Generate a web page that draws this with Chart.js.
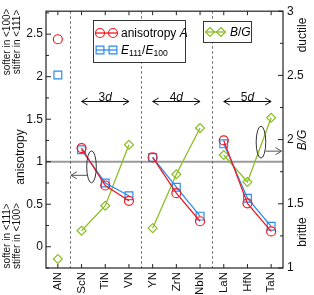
<!DOCTYPE html>
<html>
<head>
<meta charset="utf-8">
<title>Elastic anisotropy and B/G of transition metal nitrides</title>
<script src="https://cdn.jsdelivr.net/npm/chart.js@4.4.0/dist/chart.umd.min.js"></script>
<style>
  body { margin: 0; background: #fff; }
  #wrap { width: 314px; height: 295px; }
</style>
</head>
<body>
<div id="wrap"><canvas id="chart" width="314" height="295"></canvas></div>
<script>
// values
var nitrides = ["AlN", "ScN", "TiN", "VN", "YN", "ZrN", "NbN", "LaN", "HfN", "TaN"];
var shells = ["", "3d", "3d", "3d", "4d", "4d", "4d", "5d", "5d", "5d"];
var anisotropyA = [2.44, 1.16, 0.72, 0.54, 1.05, 0.63, 0.30, 1.25, 0.51, 0.18];
var youngRatio = [2.02, 1.14, 0.75, 0.60, 1.05, 0.70, 0.36, 1.21, 0.57, 0.24];
var bOverG = [1.07, 1.29, 1.485, 1.96, 1.31, 1.73, 2.09, 1.88, 1.67, 2.17];
var leftTicks = [0, 0.5, 1, 1.5, 2, 2.5];
var rightTicks = [1, 1.5, 2, 2.5, 3];

var FONT = '"Liberation Sans", Arial, Helvetica, sans-serif';
var RED = "#ee1c24";
var BLUE = "#2a8cf0";
var GREEN = "#8cbf26";

// no line between different shells (and none to AlN)
function breakSeg(c) {
  var a = shells[c.p0DataIndex], b = shells[c.p1DataIndex];
  return (a && a === b) ? undefined : "transparent";
}

function line(ctx, x1, y1, x2, y2) {
  ctx.beginPath(); ctx.moveTo(x1, y1); ctx.lineTo(x2, y2); ctx.stroke();
}

function head(ctx, x, y, dir) {
  ctx.beginPath();
  ctx.moveTo(x - dir * 6, y - 3.5);
  ctx.lineTo(x, y);
  ctx.lineTo(x - dir * 6, y + 3.5);
  ctx.stroke();
}

// draw text made of runs: {t, it, sub, sup}
function runs(ctx, parts, x, y, size) {
  var cx = x;
  parts.forEach(function(p) {
    var s = (p.sub || p.sup) ? size * 0.72 : size;
    ctx.font = (p.it ? "italic " : "") + s + "px " + FONT;
    var dy = p.sub ? size * 0.3 : (p.sup ? -size * 0.4 : 0);
    ctx.fillText(p.t, cx, y + dy);
    cx += ctx.measureText(p.t).width;
  });
}

function vtext(ctx, txt, x, y, font) {
  ctx.save();
  ctx.translate(x, y);
  ctx.rotate(-Math.PI / 2);
  ctx.font = font;
  ctx.textAlign = "center";
  ctx.textBaseline = "middle";
  ctx.fillText(txt, 0, 0);
  ctx.restore();
}

function marker(ctx, style, x, y, color) {
  ctx.save();
  ctx.strokeStyle = color;
  ctx.lineWidth = 1.2;
  ctx.beginPath();
  if (style === "circle") ctx.arc(x, y, 4.5, 0, Math.PI * 2);
  else if (style === "rect") ctx.rect(x - 3.9, y - 3.9, 7.8, 7.8);
  else { ctx.moveTo(x, y - 4.5); ctx.lineTo(x + 4.5, y); ctx.lineTo(x, y + 4.5); ctx.lineTo(x - 4.5, y); ctx.closePath(); }
  ctx.stroke();
  ctx.restore();
}

var decor = {
  id: "decor",
  beforeDatasetsDraw: function(chart) {
    var ctx = chart.ctx, a = chart.chartArea, xs = chart.scales.x, ys = chart.scales.y;
    ctx.save();
    // A = 1 reference line
    var y1 = ys.getPixelForValue(1);
    ctx.strokeStyle = "#9b9b9b";
    ctx.lineWidth = 2;
    line(ctx, a.left, y1, a.right, y1);
    // dashed separators between shells
    ctx.strokeStyle = "#444";
    ctx.lineWidth = 0.8;
    ctx.setLineDash([2.5, 2.5]);
    for (var i = 1; i < nitrides.length; i++) {
      if (shells[i] !== shells[i - 1]) {
        var xm = Math.round((xs.getPixelForValue(i - 1) + xs.getPixelForValue(i)) / 2) + 0.5;
        line(ctx, xm, a.top, xm, a.bottom);
      }
    }
    ctx.restore();
  },
  afterDatasetsDraw: function(chart) {
    var ctx = chart.ctx, a = chart.chartArea;
    var xs = chart.scales.x, ys = chart.scales.y, y2 = chart.scales.y2;
    ctx.save();

    // frame and inward ticks
    ctx.strokeStyle = "#222";
    ctx.lineWidth = 1.2;
    ctx.strokeRect(a.left, a.top, a.right - a.left, a.bottom - a.top);
    ctx.lineWidth = 1;
    nitrides.forEach(function(n, i) {
      var px = xs.getPixelForValue(i);
      line(ctx, px, a.bottom, px, a.bottom - 4);
      line(ctx, px, a.top, px, a.top + 4);
    });
    for (var v = -0.25; v <= 2.76; v += 0.25) {
      var major = Math.abs(v * 2 - Math.round(v * 2)) < 1e-6;
      var py = ys.getPixelForValue(v);
      line(ctx, a.left, py, a.left + (major ? 5 : 3), py);
    }
    for (var w = 1; w <= 3.01; w += 0.25) {
      var maj = Math.abs(w * 2 - Math.round(w * 2)) < 1e-6;
      var qy = y2.getPixelForValue(w);
      line(ctx, a.right, qy, a.right - (maj ? 5 : 3), qy);
    }

    // shell arrows
    ctx.strokeStyle = "#111";
    ctx.fillStyle = "#111";
    var ay = Math.round(ys.getPixelForValue(1.71)) + 0.5;
    ["3d", "4d", "5d"].forEach(function(s) {
      var first = shells.indexOf(s), last = shells.lastIndexOf(s);
      var xa = xs.getPixelForValue(first), xb = xs.getPixelForValue(last);
      line(ctx, xa, ay, xb, ay);
      head(ctx, xa, ay, -1);
      head(ctx, xb, ay, 1);
      ctx.textBaseline = "alphabetic";
      ctx.font = "12px " + FONT;
      var w1 = ctx.measureText(s[0]).width;
      ctx.font = "italic 12px " + FONT;
      var w2 = ctx.measureText("d").width;
      runs(ctx, [{t: s[0]}, {t: "d", it: true}], (xa + xb) / 2 - (w1 + w2) / 2, ay - 1, 12);
    });

    // ellipses pointing to the axes
    ctx.strokeStyle = "#333";
    ctx.lineWidth = 1;
    var ex = xs.getPixelForValue(1.42), ey = ys.getPixelForValue(0.94);
    ctx.beginPath(); ctx.ellipse(ex, ey, 4.8, 16, 0, 0, Math.PI * 2); ctx.stroke();
    var ly = ys.getPixelForValue(0.84);
    ctx.strokeStyle = "#555";
    line(ctx, ex - 4.5, ly, xs.getPixelForValue(0.55), ly);
    head(ctx, xs.getPixelForValue(0.55), ly, -1);

    ctx.strokeStyle = "#333";
    var fx = xs.getPixelForValue(8.57), fy = y2.getPixelForValue(1.98);
    ctx.beginPath(); ctx.ellipse(fx, fy, 4.8, 16, 0, 0, Math.PI * 2); ctx.stroke();
    var ry = y2.getPixelForValue(1.91);
    ctx.strokeStyle = "#555";
    line(ctx, fx + 4.5, ry, a.right - 1.5, ry);
    head(ctx, a.right - 1.5, ry, 1);

    // legend boxes
    ctx.fillStyle = "#fff";
    ctx.strokeStyle = "#222";
    ctx.lineWidth = 0.9;
    ctx.fillRect(93.5, 20.5, 92, 42);
    ctx.strokeRect(93.5, 20.5, 92, 42);
    ctx.fillRect(203.5, 21.5, 48, 21);
    ctx.strokeRect(203.5, 21.5, 48, 21);

    var items = [
      {y: 33, c: RED, s: "circle", txt: [{t: "anisotropy "}, {t: "A", it: true}]},
      {y: 50, c: BLUE, s: "rect", txt: [{t: "E", it: true}, {t: "111", sub: true}, {t: "/"}, {t: "E", it: true}, {t: "100", sub: true}]}
    ];
    items.forEach(function(it) {
      ctx.strokeStyle = it.c;
      ctx.lineWidth = 1.3;
      line(ctx, 96, it.y, 117, it.y);
      marker(ctx, it.s, 100, it.y, it.c);
      marker(ctx, it.s, 113, it.y, it.c);
      ctx.fillStyle = "#000";
      ctx.textBaseline = "middle";
      runs(ctx, it.txt, 121, it.y + 0.5, 12);
    });
    ctx.strokeStyle = GREEN;
    ctx.lineWidth = 1.3;
    line(ctx, 206, 32, 225, 32);
    marker(ctx, "diamond", 210, 32, GREEN);
    marker(ctx, "diamond", 221, 32, GREEN);
    ctx.fillStyle = "#000";
    ctx.textBaseline = "middle";
    runs(ctx, [{t: "B", it: true}, {t: "/"}, {t: "G", it: true}], 230, 32.5, 12);

    // side titles
    ctx.fillStyle = "#111";
    vtext(ctx, "softer in <100>", 7, 42, "10px " + FONT);
    vtext(ctx, "stiffer in <111>", 17, 42, "10px " + FONT);
    vtext(ctx, "anisotropy", 21, 157, "12px " + FONT);
    vtext(ctx, "softer in <111>", 7, 236, "10px " + FONT);
    vtext(ctx, "stiffer in <100>", 17, 236, "10px " + FONT);
    vtext(ctx, "ductile", 303, 35, "12px " + FONT);
    vtext(ctx, "B/G", 303, 140, "italic 12px " + FONT);
    vtext(ctx, "brittle", 303, 232, "12px " + FONT);
    ctx.restore();
  }
};

new Chart(document.getElementById("chart").getContext("2d"), {
  type: "line",
  data: {
    labels: nitrides,
    datasets: [
      {
        label: "anisotropy A",
        data: anisotropyA,
        yAxisID: "y",
        borderColor: RED,
        borderWidth: 1.3,
        pointStyle: "circle",
        pointRadius: 4.5,
        pointBorderWidth: 1.2,
        pointBorderColor: RED,
        pointBackgroundColor: "rgba(0,0,0,0)",
        segment: { borderColor: breakSeg }
      },
      {
        label: "E111/E100",
        data: youngRatio,
        yAxisID: "y",
        borderColor: BLUE,
        borderWidth: 1.3,
        pointStyle: "rect",
        pointRadius: 5.5,
        pointBorderWidth: 1.2,
        pointBorderColor: BLUE,
        pointBackgroundColor: "rgba(0,0,0,0)",
        segment: { borderColor: breakSeg }
      },
      {
        label: "B/G",
        data: bOverG,
        yAxisID: "y2",
        borderColor: GREEN,
        borderWidth: 1.3,
        pointStyle: "rectRot",
        pointRadius: 4.5,
        pointBorderWidth: 1.2,
        pointBorderColor: GREEN,
        pointBackgroundColor: "rgba(0,0,0,0)",
        segment: { borderColor: breakSeg }
      }
    ]
  },
  options: {
    responsive: false,
    animation: false,
    layout: { padding: { top: 5, left: 0, right: 0, bottom: 0 } },
    plugins: { legend: { display: false }, tooltip: { enabled: false } },
    elements: { line: { tension: 0 } },
    scales: {
      x: {
        type: "category",
        offset: true,
        grid: { display: false, drawTicks: false },
        border: { display: false },
        ticks: {
          autoSkip: false, minRotation: 90, maxRotation: 90, padding: 4,
          color: "#111", font: { family: FONT, size: 11.5 }
        },
        afterFit: function(s) { s.height = 27; }
      },
      y: {
        position: "left",
        min: -0.25,
        max: 2.77,
        grid: { display: false, drawTicks: false },
        border: { display: false },
        afterBuildTicks: function(s) { s.ticks = leftTicks.map(function(v) { return { value: v }; }); },
        ticks: {
          padding: 3, color: "#111", font: { family: FONT, size: 12 },
          callback: function(v) { return String(v); }
        },
        afterFit: function(s) { s.width = 46; }
      },
      y2: {
        position: "right",
        min: 1,
        max: 3,
        grid: { display: false, drawTicks: false },
        border: { display: false },
        afterBuildTicks: function(s) { s.ticks = rightTicks.map(function(v) { return { value: v }; }); },
        ticks: {
          padding: 4, color: "#111", font: { family: FONT, size: 12 },
          callback: function(v) { return String(v); }
        },
        afterFit: function(s) { s.width = 31; }
      }
    }
  },
  plugins: [decor]
});
</script>
</body>
</html>
